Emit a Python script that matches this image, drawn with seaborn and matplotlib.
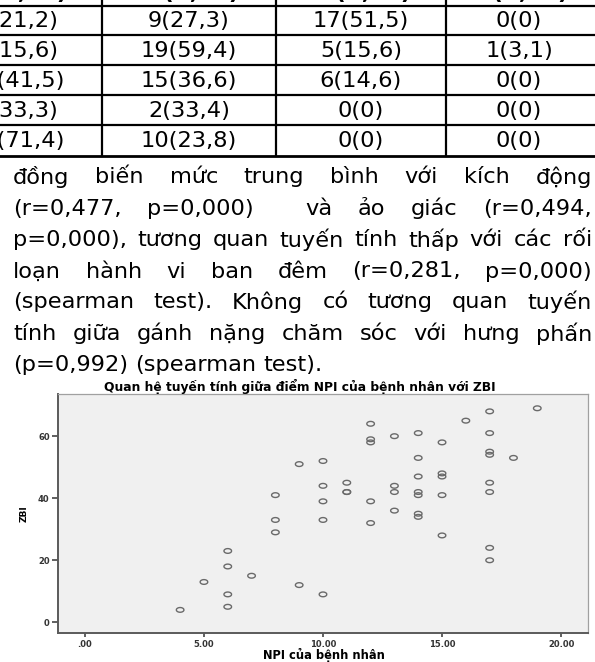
import numpy as np
import pandas as pd
import matplotlib
matplotlib.use("Agg")
import matplotlib.pyplot as plt
import seaborn as sns
from matplotlib.path import Path
from matplotlib.lines import Line2D

# ---------------- data ----------------
npi = [4, 5, 6, 6, 6, 6, 7, 8, 8, 8, 9, 9, 10, 10, 10, 10, 10, 11, 11, 11,
       12, 12, 12, 12, 12, 13, 13, 13, 13, 14, 14, 14, 14, 14, 14, 14,
       15, 15, 15, 15, 15, 16, 17, 17, 17, 17, 17, 17, 17, 17, 18, 19]
zbi = [4, 13, 23, 18, 9, 5, 15, 41, 33, 29, 51, 12, 52, 44, 39, 33, 9, 45, 42, 42,
       64, 59, 58, 39, 32, 60, 44, 42, 36, 61, 53, 47, 42, 41, 35, 34,
       58, 48, 47, 41, 28, 65, 68, 61, 55, 54, 45, 42, 24, 20, 53, 69]

x_ticks = [0, 5, 10, 15, 20]
x_ticklabels = [".00", "5.00", "10.00", "15.00", "20.00"]
y_ticks = [0, 20, 40, 60]
y_ticklabels = ["0", "20", "40", "60"]

chart_title = "Quan hệ tuyến tính giữa điểm NPI của bệnh nhân với ZBI"
x_label = "NPI của bệnh nhân"
y_label = "ZBI"

table_header = ["2 (n, %)", "3 (n, %)", "4 (n, %)", "5 (n, %)"]
table_col0 = ["7(21,2)", "5(15,6)", "17(41,5)", "2(33,3)", "30(71,4)"]
table_col1 = ["9(27,3)", "19(59,4)", "15(36,6)", "2(33,4)", "10(23,8)"]
table_col2 = ["17(51,5)", "5(15,6)", "6(14,6)", "0(0)", "0(0)"]
table_col3 = ["0(0)", "1(3,1)", "0(0)", "0(0)", "0(0)"]

paragraph = [
    "đồng biến mức trung bình với kích động",
    "(r=0,477, p=0,000)  và ảo giác (r=0,494,",
    "p=0,000), tương quan tuyến tính thấp với các rối",
    "loạn hành vi ban đêm (r=0,281, p=0,000)",
    "(spearman test). Không có tương quan tuyến",
    "tính giữa gánh nặng chăm sóc với hưng phấn",
    "(p=0,992) (spearman test).",
]

# ---------------- figure ----------------
W, H = 595, 662
fig = plt.figure(figsize=(W / 100, H / 100), dpi=100)
fig.patch.set_facecolor("white")


def fx(px):
    return px / W


def fy(py):
    return 1 - py / H


TXT_FONT = "DejaVu Sans"
TXT_SIZE = 16.2

# ---- table ----
row_lines = [6, 35, 65, 95, 125, 156]
for y in row_lines:
    lw = 2.0 if y == row_lines[-1] else 1.6
    fig.add_artist(Line2D([0, 1], [fy(y), fy(y)], color="black", lw=lw))
col_lines = [102, 276, 446]
for x in col_lines:
    fig.add_artist(Line2D([fx(x), fx(x)], [fy(0), fy(row_lines[-1])], color="black", lw=1.6))

col_centers = [17, 189, 361, 519]
cols = [table_col0, table_col1, table_col2, table_col3]
for ci, col in enumerate(cols):
    fig.text(fx(col_centers[ci]), fy(-7), table_header[ci], ha="center", va="center",
             fontsize=TXT_SIZE, family=TXT_FONT, fontweight="bold")
    for ri, val in enumerate(col):
        yc = (row_lines[ri] + row_lines[ri + 1]) / 2
        fig.text(fx(col_centers[ci]), fy(yc + 1), val, ha="center", va="center",
                 fontsize=TXT_SIZE, family=TXT_FONT)

# ---- justified paragraph ----
fig.canvas.draw()
renderer = fig.canvas.get_renderer()
line_y = [177, 208.5, 240, 271.5, 302, 333.5, 365]
left, right = 13, 592
for li, line in enumerate(paragraph):
    words = line.split(" ")
    arts = []
    widths = []
    for w in words:
        t = fig.text(0, fy(line_y[li]), w, ha="left", va="center",
                     fontsize=TXT_SIZE, family=TXT_FONT)
        arts.append(t)
        widths.append(t.get_window_extent(renderer).width if w else 0)
    if li == len(paragraph) - 1:
        gap = 7
    else:
        gap = (right - left - sum(widths)) / (len(words) - 1)
    x = left
    for t, wdt in zip(arts, widths):
        t.set_x(fx(x))
        x += wdt + gap

# ---- scatter chart ----
ax = fig.add_axes([fx(58), fy(633), fx(588) - fx(58), fy(394) - fy(633)])
ax.set_facecolor("#f0f0f0")

theta = np.linspace(0, 2 * np.pi, 41)
ellipse = Path(np.column_stack([np.cos(theta), 0.62 * np.sin(theta)]))

df = pd.DataFrame({"NPI": npi, "ZBI": zbi})
sns.scatterplot(data=df, x="NPI", y="ZBI", ax=ax, marker=ellipse, s=30,
                color="#707070", linewidth=1.0, legend=False)
coll = ax.collections[0]
coll.set_facecolor("none")
coll.set_edgecolor("#6a6a6a")

ax.set_xlim(-1.13, 21.13)
ax.set_ylim(-3.45, 73.6)
ax.set_xticks(x_ticks)
ax.set_xticklabels(x_ticklabels)
ax.set_yticks(y_ticks)
ax.set_yticklabels(y_ticklabels)
ax.tick_params(axis="y", length=4.5, width=1.2, color="#444444", pad=1.5,
               labelsize=6, labelcolor="#333333")
ax.tick_params(axis="x", length=3, width=1.2, color="#444444", pad=2.0,
               labelsize=6, labelcolor="#333333")
for lab in ax.get_xticklabels() + ax.get_yticklabels():
    lab.set_fontfamily("DejaVu Sans")
    lab.set_fontweight("bold")
ax.set_xlabel("")
ax.set_ylabel("")
for s in ["left", "bottom"]:
    ax.spines[s].set_color("#5a5a5a")
    ax.spines[s].set_linewidth(1.4)
for s in ["top", "right"]:
    ax.spines[s].set_color("#a0a0a0")
    ax.spines[s].set_linewidth(0.9)

fig.text(fx(300), fy(386.5), chart_title, ha="center", va="center",
         fontsize=8.8, family="DejaVu Sans", fontweight="bold")
fig.text(fx(324), fy(655), x_label, ha="center", va="center",
         fontsize=8.3, family="DejaVu Sans", fontweight="bold")
fig.text(fx(24), fy(513.5), y_label, ha="center", va="center", rotation=90,
         fontsize=6.5, family="DejaVu Sans", fontweight="bold")

fig.savefig("out.png", dpi=100)
